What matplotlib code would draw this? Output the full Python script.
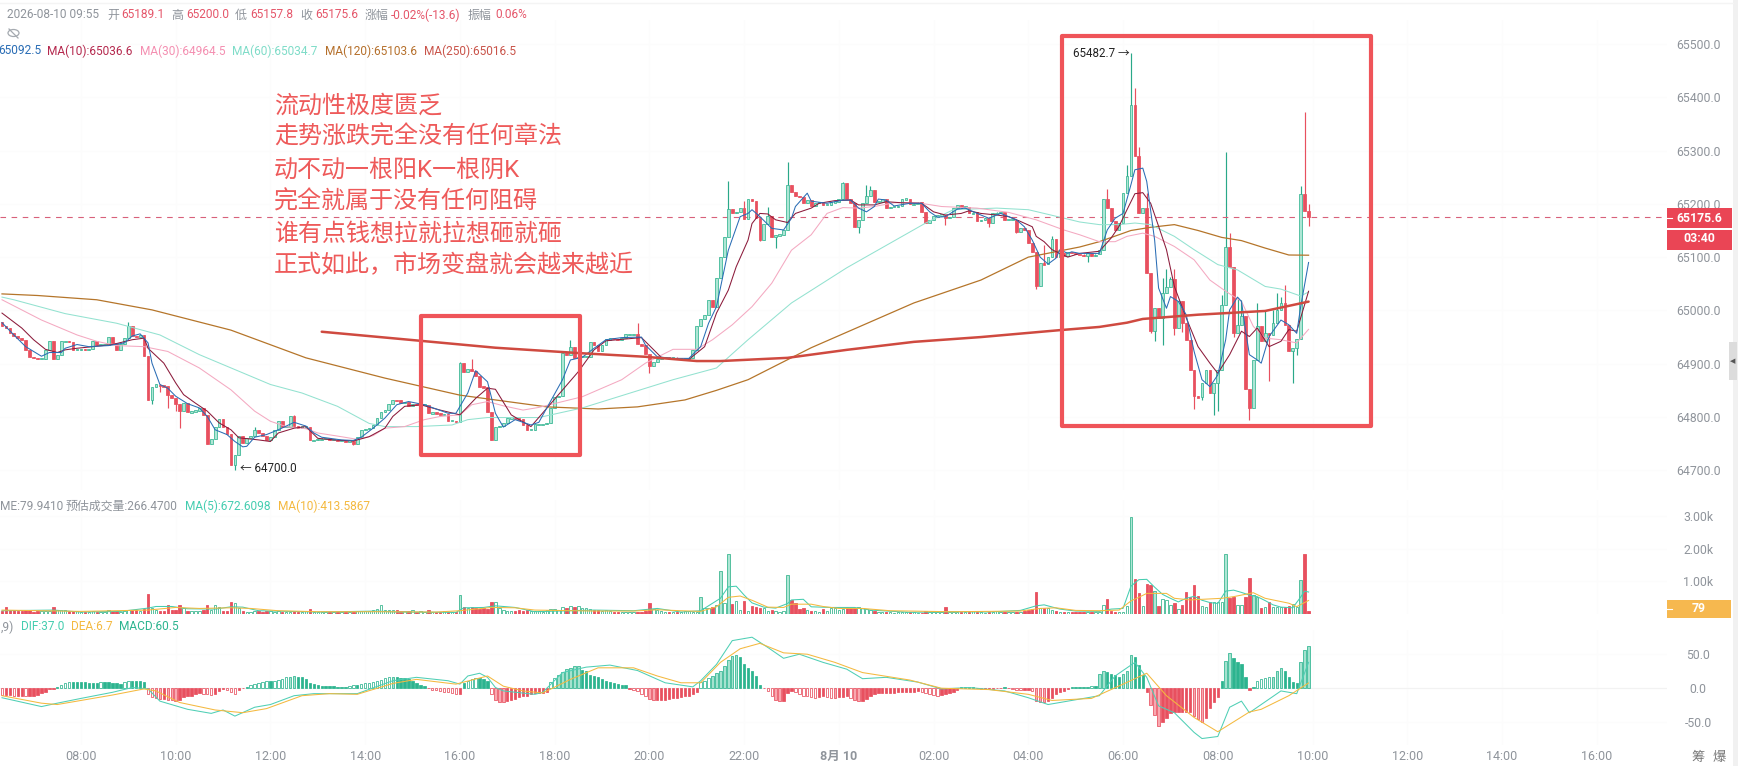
import matplotlib
matplotlib.use("Agg")
import matplotlib.pyplot as plt
from matplotlib.patches import Rectangle, Ellipse

plt.rcParams['font.family'] = ['Roboto', 'Noto Sans CJK SC', 'DejaVu Sans']

closes = [
 64970,64967,64957,64952,64948,64944,64926,64912,64911,64909,64909,64926,64942,64909,64917,64942,64942,64941,64926,64926,64927,64926,64927,64942,
 64936,64936,64936,64951,64939,64926,64937,64948,64970,64952,64951,64954,64914,64832,64856,64861,64859,64858,64842,64836,64825,64811,64826,64809,
 64811,64811,64817,64804,64750,64759,64782,64796,64782,64769,64709,64728,64764,64752,64761,64764,64776,64770,64765,64757,64763,64776,64792,64782,
 64782,64802,64783,64781,64781,64781,64756,64757,64758,64760,64760,64757,64757,64756,64756,64755,64755,64750,64762,64776,64778,64779,64785,64798,
 64810,64813,64825,64832,64831,64827,64829,64821,64825,64823,64823,64823,64807,64808,64807,64804,64805,64793,64793,64791,64901,64885,64890,64887,
 64876,64857,64856,64810,64756,64782,64783,64788,64798,64798,64797,64796,64785,64776,64776,64786,64786,64787,64789,64817,64838,64840,64920,64917,
 64932,64910,64913,64913,64913,64940,64935,64923,64935,64946,64948,64947,64945,64948,64955,64955,64955,64937,64935,64918,64895,64904,64908,64912,
 64913,64912,64912,64910,64910,64910,64910,64926,64970,64983,64992,65020,65007,65060,65100,65137,65190,65182,65185,65193,65171,65210,65205,65173,
 65132,65163,65177,65137,65141,65142,65151,65235,65223,65215,65212,65202,65208,65196,65201,65204,65198,65198,65203,65204,65209,65239,65210,65201,
 65157,65170,65201,65214,65226,65204,65204,65210,65192,65195,65195,65196,65209,65210,65199,65201,65203,65185,65164,65170,65177,65179,65179,65173,
 65176,65192,65198,65194,65194,65182,65184,65167,65170,65174,65164,65182,65184,65185,65170,65170,65170,65148,65154,65150,65127,65109,65045,65089,
 65087,65100,65134,65100,65107,65102,65110,65108,65106,65105,65103,65107,65103,65105,65113,65209,65192,65168,65151,65164,65221,65252,65386,65290,
 65182,65192,65070,64961,65004,64986,65032,65044,65059,64967,65017,64977,64945,64889,64839,64837,64864,64889,64845,64864,64889,65011,65119,65082,
 64957,64973,64990,64852,64817,64907,64970,64942,64957,64954,64976,65001,65014,64973,64923,64929,64946,65219,65186,65175.6]
first_open = 64978

high_idx = [32,64,74,116,119,144,161,184,188,194,199,213,219,220,264,266,280,285,286,287,288,290,294,295,296,297,309,310,311,312,313,314,318,320,322,323,324,325,329,330,331]
high_val = [64979,64782,64804,64904,64908,64945,64976,65243,65206,65195,65278,65241,65235,65234,65123,65140,65227,65273,65482.7,65417,65307,65220,65060,65077,65062,65077,65029,65298,65145,65082,65023,65020,65014,65001,65001,65032,65026,65048,65234,65372,65200]
low_idx = [38,40,42,44,45,59,89,164,192,196,217,239,250,257,262,275,291,292,294,297,299,302,304,307,308,312,316,318,321,327,328,331]
low_val = [64825,64846,64817,64811,64779,64700,64747,64883,65131,65118,65146,65161,65157,65146,65040,65090,64958,64942,64936,64954,64960,64815,64832,64804,64811,64950,64795,64914,64867,64864,64917,65157.8]

ma5_idx = [0,3,6,10,12,15,16,19,22,27,31,33,35,37,38,40,42,44,47,50,52,54,57,59,61,62,64,67,70,74,77,79,81,86,89,91,94,97,100,103,107,113,115,118,120,123,125,127,130,134,136,142,144,147,150,153,157,162,163,166,170,174,177,179,181,184,187,189,190,192,195,198,200,201,204,205,209,213,215,217,219,221,222,224,226,230,233,235,237,239,242,244,248,250,253,255,257,259,261,263,265,267,268,270,271,273,278,280,282,284,286,287,289,290,292,293,295,296,298,300,302,304,306,308,310,311,313,314,315,316,318,319,321,324,326,328,329,331]
ma5_val = [64977,64954,64932,64914,64921,64921,64929,64936,64932,64934,64939,64952,64956,64939,64901,64861,64854,64839,64825,64817,64801,64776,64767,64754,64744,64745,64762,64767,64776,64790,64783,64770,64762,64757,64756,64762,64779,64798,64823,64829,64823,64807,64807,64845,64887,64866,64807,64781,64795,64785,64790,64870,64907,64912,64929,64945,64949,64950,64935,64913,64910,64910,64932,64976,65007,65113,65176,65182,65189,65176,65154,65151,65173,65195,65220,65205,65201,65207,65207,65192,65185,65195,65209,65207,65196,65201,65201,65185,65175,65176,65190,65192,65179,65173,65182,65176,65170,65157,65132,65100,65087,65098,65114,65107,65110,65107,65107,65151,65173,65182,65236,65264,65267,65242,65132,65042,65004,65026,65017,64992,64923,64870,64857,64879,64945,65001,65025,65017,64964,64917,64907,64901,64951,64982,64973,64957,65007,65090]

ma10_idx = [0,5,8,11,14,16,19,23,28,33,36,37,41,44,46,49,52,55,58,60,65,68,70,74,77,80,84,89,93,97,99,102,106,111,116,120,123,125,129,134,146,150,153,162,167,170,174,178,181,184,186,189,190,192,194,196,199,201,205,207,211,215,217,221,224,228,233,236,239,243,245,248,252,255,258,261,262,264,266,268,270,273,278,281,283,285,287,289,291,293,295,297,300,303,306,308,311,314,316,318,321,324,326,328,331]
ma10_val = [64995,64967,64945,64927,64921,64926,64929,64932,64936,64945,64948,64929,64901,64864,64842,64826,64811,64789,64776,64761,64757,64754,64770,64779,64782,64760,64757,64755,64763,64779,64801,64820,64823,64813,64804,64835,64854,64852,64804,64782,64885,64926,64943,64949,64912,64908,64908,64932,64995,65038,65082,65132,65163,65182,65181,65170,65165,65182,65192,65201,65206,65207,65198,65198,65204,65202,65201,65185,65179,65182,65187,65182,65179,65176,65167,65157,65139,65129,65114,65107,65100,65107,65111,65136,65158,65189,65219,65221,65201,65158,65114,65045,64986,64932,64901,64882,64917,64961,64951,64967,64932,64942,64964,64961,65036]

ma30_idx = [0,10,19,24,29,36,42,50,58,64,68,72,77,80,86,90,94,97,102,107,111,116,119,123,127,132,136,147,157,163,170,176,180,185,190,195,200,205,209,213,217,221,226,232,238,247,255,262,269,273,278,282,285,289,292,297,302,306,310,314,317,320,324,328,331]
ma30_val = [65020,64982,64954,64942,64934,64932,64923,64892,64851,64811,64792,64782,64778,64770,64763,64758,64765,64779,64782,64795,64801,64804,64823,64829,64821,64813,64818,64838,64870,64901,64927,64927,64945,64973,65007,65051,65113,65142,65182,65193,65192,65195,65202,65202,65195,65192,65184,65170,65151,65142,65129,65129,65139,65145,65139,65120,65095,65057,65036,65017,64970,64948,64945,64939,64964.5]

ma60_idx = [0,3,16,29,40,50,59,68,76,85,93,97,105,114,118,123,136,147,170,181,189,200,214,234,241,252,260,268,273,278,283,287,291,297,302,308,313,320,324,329,331]
ma60_val = [65025,65020,64994,64976,64954,64917,64889,64861,64845,64820,64788,64782,64782,64785,64795,64799,64799,64817,64870,64892,64945,65014,65080,65164,65189,65192,65189,65175,65166,65161,65161,65164,65161,65139,65114,65086,65076,65045,65040,65027,65034.7]

ma120_idx = [0,9,24,38,58,77,97,116,138,151,161,173,181,189,205,231,248,260,273,278,286,291,297,303,309,314,320,326,331]
ma120_val = [65031,65028,65020,65001,64963,64911,64873,64841,64819,64815,64819,64832,64850,64870,64930,65014,65057,65100,65119,65129,65150,65156,65161,65150,65137,65131,65117,65104,65103.6]

ma250_idx = [81,106,125,146,163,176,182,199,214,231,248,268,278,285,289,303,320,331]
ma250_val = [64960,64943,64930,64920,64913,64905,64905,64911,64926,64941,64950,64963,64969,64977,64984,64992,64999,65016.5]

volumes = [
 90,220,120,110,100,100,110,120,70,90,80,90,100,220,130,130,120,80,100,90,70,70,60,90,
 60,70,60,120,100,90,70,80,130,110,110,100,150,600,180,110,100,80,280,130,120,280,190,80,
 90,100,90,110,280,130,270,200,100,90,360,330,180,90,70,60,100,80,70,80,80,60,90,60,
 50,70,80,70,60,90,160,70,50,50,50,50,60,50,50,50,60,60,80,90,80,100,120,150,
 270,130,120,110,130,100,80,80,110,70,80,60,130,70,60,60,80,50,70,50,580,200,190,220,
 170,150,170,160,360,360,170,110,100,90,90,110,90,110,100,90,80,60,120,150,140,110,220,180,
 230,200,250,170,170,140,110,110,100,110,90,70,60,60,60,70,70,70,60,80,330,150,130,90,
 70,70,60,70,60,80,90,70,60,530,180,190,200,280,1320,340,1830,310,400,110,400,90,250,200,
 180,170,100,110,90,60,100,1190,430,350,150,190,120,100,80,70,150,100,180,190,120,150,220,180,
 170,220,180,160,110,80,60,50,60,50,40,50,50,70,60,50,40,40,100,60,60,60,60,220,
 70,60,60,50,50,70,80,60,50,40,60,60,90,60,60,50,60,70,70,100,130,160,660,170,
 170,180,120,90,70,60,70,60,50,50,50,50,50,50,60,280,460,100,70,60,60,240,2960,1060,
 630,230,920,890,710,250,450,430,275,350,150,275,660,510,890,550,230,210,370,380,380,380,1830,480,
 530,265,265,530,1090,580,530,195,225,380,210,210,210,210,245,305,225,1040,1830,80]

volma5_idx = [0,13,20,30,37,39,43,47,54,58,61,65,80,95,100,115,117,122,125,130,135,150,160,166,172,177,182,184,186,188,190,193,196,199,200,203,205,210,216,220,230,240,250,258,262,264,268,272,278,281,284,286,288,290,292,294,296,298,300,302,304,306,308,310,312,314,316,318,320,322,324,327,329,330,331]
volma5_val = [100,120,60,80,180,230,230,160,150,220,210,100,60,90,60,50,190,200,250,200,70,120,100,170,60,100,480,830,850,580,340,210,180,320,430,450,220,200,200,120,50,70,60,110,250,280,150,90,80,150,170,850,1050,1060,820,600,480,370,480,540,420,350,320,700,730,660,580,530,410,280,210,190,520,700,672.6]
volma10_idx = [0,20,37,44,50,58,63,70,80,95,110,116,124,130,135,150,160,166,172,177,181,184,187,190,194,198,200,205,208,212,218,225,240,250,258,263,267,272,278,283,286,288,290,295,297,301,309,312,317,320,326,328,331]
volma10_val = [120,80,120,200,170,190,170,100,70,70,60,100,200,190,120,90,90,130,100,80,220,510,550,420,210,200,300,300,230,170,170,100,70,80,90,170,190,110,100,120,400,510,630,630,480,430,480,530,650,480,330,225,413.6]

macd_hist = [
 -11,-11,-11,-12,-12,-12,-13,-13,-12,-11,-8,-6,-2,-2,1,4,6,8,8,8,8,8,7,7,
 7,8,8,8,7,6,5,8,10,10,10,9,8,-9,-14,-16,-17,-17,-18,-19,-20,-18,-14,-13,
 -12,-10,-8,-9,-10,-11,-9,-5,-2,-3,-6,-9,-4,-1,1,3,5,7,8,9,9,10,11,12,
 15,16,17,16,15,12,7,5,3,2,2,2,2,1,1,1,2,3,3,5,6,7,8,10,
 11,14,15,16,16,14,14,12,10,7,4,2,-1,-3,-4,-5,-6,-7,-8,-9,-9,6,10,12,
 14,14,13,9,-10,-18,-21,-22,-20,-19,-17,-14,-13,-12,-9,-8,-8,-8,-6,8,14,19,23,27,
 28,31,32,26,24,18,17,15,12,10,8,6,5,3,3,-2,-3,-5,-10,-13,-17,-19,-19,-19,
 -18,-17,-16,-15,-14,-13,-13,-10,-7,8,10,14,17,21,25,32,40,47,48,45,35,29,24,17,
 3,-1,-5,-12,-18,-20,-20,-8,-5,-7,-9,-12,-13,-14,-15,-14,-13,-14,-15,-16,-14,-14,-13,-15,
 -19,-20,-20,-17,-12,-9,-8,-8,-8,-8,-8,-7,-7,-7,-6,-6,-5,-6,-8,-9,-11,-12,-11,-10,
 -8,-6,-3,1,1,1,1,-1,-2,-2,-2,-2,-1,-1,1,-1,-2,-3,-4,-4,-4,-5,-20,-21,
 -22,-20,-15,-10,-7,-5,-2,1,1,1,1,1,2,2,20,24,23,20,18,16,20,25,48,45,
 33,19,-7,-25,-40,-57,-50,-45,-38,-36,-36,-36,-36,-36,-42,-46,-50,-45,-30,-22,-14,9,39,51,
 43,38,35,15,-3,1,10,12,14,15,16,25,29,25,15,8,6,38,55,60.5]

dif_idx = [0,10,14,20,28,33,37,40,47,53,56,59,64,68,74,79,90,99,105,113,116,118,121,123,125,127,135,137,142,148,154,161,168,175,177,181,185,190,194,198,202,208,214,218,224,232,238,245,254,260,265,273,278,282,287,290,293,297,302,304,308,311,314,316,324,328,331]
dif_val = [-15,-28,-23,-16,-7,0,-2,-20,-32,-38,-33,-42,-29,-25,-12,-9,-9,10,15,10,5,17,21,15,0,-5,-10,-7,22,30,33,25,7,1,10,34,69,74,59,43,49,37,27,13,15,8,-2,0,-5,-15,-25,-17,-12,17,37,15,-27,-37,-66,-75,-72,-29,-20,-37,-5,-9,37]
dea_idx = [0,10,14,20,28,36,39,45,54,61,67,76,83,90,99,105,115,123,127,132,137,144,151,160,166,172,177,182,187,192,198,204,211,218,230,238,250,260,266,276,284,290,295,302,308,316,319,326,331]
dea_val = [-12,-23,-25,-19,-11,-2,-5,-22,-33,-37,-31,-12,-9,-10,6,12,5,17,2,-5,-8,12,29,29,17,7,7,37,57,65,51,49,37,22,11,-1,-3,-10,-19,-16,5,21,-12,-44,-65,-36,-32,-12,6.7]

hour_idx = [20,44,68,92,116,140,164,188,212,236,260,284,308,332,356,380,404]
hour_labels = ['08:00','10:00','12:00','14:00','16:00','18:00','20:00','22:00','8月 10','02:00','04:00','06:00','08:00','10:00','12:00','14:00','16:00']

notes = ['流动性极度匮乏', '走势涨跌完全没有任何章法', '动不动一根阳K一根阴K', '完全就属于没有任何阻碍', '谁有点钱想拉就拉想砸就砸', '正式如此，市场变盘就会越来越近']

W, H = 1738, 766
GREEN, GREEN_FILL, RED = '#35b592', '#aee6d5', '#e8505f'
GRID = '#fcfcfc'
GREY = '#8f949b'
fig = plt.figure(figsize=(W/100, H/100), dpi=100, facecolor='white')

def px_axes(x0, x1, y0, y1):
    return fig.add_axes([x0/W, 1-y1/H, (x1-x0)/W, (y1-y0)/H])

XL, XR = -0.506, 421.8
ax = px_axes(0, 1667, 20, 490)
axv = px_axes(0, 1667, 500, 614)
axm = px_axes(0, 1667, 630, 745)
ax.set_ylim(64663, 65545)
axv.set_ylim(0, 3486)
axm.set_ylim(-84.5, 84.6)

for a in (ax, axv, axm):
    a.set_xlim(XL, XR)
    a.set_xticks(hour_idx)
    a.tick_params(length=0, labelbottom=False)
    a.grid(True, color=GRID, lw=1)
    a.set_axisbelow(True)
    for s in a.spines.values():
        s.set_visible(False)
    a.yaxis.tick_right()

def set_right(a, vals, labels):
    a.set_yticks(vals)
    a.set_yticklabels(labels, fontsize=8.8, color=GREY, ha='center')
    a.tick_params(axis='y', pad=22.5, length=0)

set_right(ax, list(range(64700, 65501, 100)), [f'{v}.0' for v in range(64700, 65501, 100)])
set_right(axv, [1000, 2000, 3000], ['1.00k', '2.00k', '3.00k'])
set_right(axm, [-50, 0, 50], ['-50.0', '0.0', '50.0'])
axm.tick_params(axis='x', labelbottom=True, pad=3.5, labelsize=9, labelcolor=GREY)
axm.set_xticklabels(hour_labels)
for lab in axm.get_xticklabels():
    if lab.get_text().startswith('8月'):
        lab.set_fontweight('bold')

# candles
n = min(len(closes), len(volumes), len(macd_hist))
xs = list(range(n))
opens = [first_open] + closes[:n-1]
highs = [max(o, c) for o, c in zip(opens, closes[:n])]
lows = [min(o, c) for o, c in zip(opens, closes[:n])]
for i, v in zip(high_idx, high_val):
    highs[i] = max(highs[i], v)
for i, v in zip(low_idx, low_val):
    lows[i] = min(lows[i], v)

for i in xs:
    up = closes[i] >= opens[i]
    ax.vlines(i, lows[i], highs[i], color='#2aa889' if up else RED, lw=0.85, zorder=2)
    bot, h = min(opens[i], closes[i]), abs(closes[i]-opens[i])
    if h < 2.5:
        bot, h = bot-1, 2.5
    ax.bar(i, h, bottom=bot, width=0.7, color=GREEN_FILL if up else RED,
           edgecolor=GREEN if up else RED, lw=0.55, zorder=3)

ax.plot(ma120_idx, ma120_val, color='#b5752a', lw=0.9, zorder=4)
ax.plot(ma60_idx, ma60_val, color='#93e2d0', lw=0.75, zorder=4)
ax.plot(ma30_idx, ma30_val, color='#f4a9c1', lw=0.75, zorder=4)
ax.plot(ma10_idx, ma10_val, color='#8b1a3a', lw=0.75, zorder=5)
ax.plot(ma5_idx, ma5_val, color='#2a6db5', lw=0.75, zorder=5)
ax.plot(ma250_idx, ma250_val, color='#cf4a40', lw=1.8, zorder=6, solid_capstyle='round')

ax.axhline(65175.6, color='#d8607a', lw=0.8, dashes=(5, 5), zorder=2)
ax.annotate('← 64700.0', (59, 64700), xytext=(4, 1), textcoords='offset points',
            fontsize=8.4, color='#222222', va='center', ha='left')
ax.annotate('65482.7 →', (286, 65482.7), xytext=(-1, 0), textcoords='offset points',
            fontsize=8.4, color='#222222', va='center', ha='right')

# volume
for i in xs:
    up = closes[i] >= opens[i]
    axv.bar(i, volumes[i], width=0.62, color=(GREEN_FILL if volumes[i] > 500 else 'white') if up else RED,
            edgecolor='#3fb892' if up else RED, lw=0.6, zorder=3)
axv.plot(volma5_idx, volma5_val, color='#45cdb0', lw=0.75, zorder=4)
axv.plot(volma10_idx, volma10_val, color='#f4b93f', lw=0.75, zorder=4)

# MACD
prev = 0
for i in xs:
    v = macd_hist[i]
    growing = abs(v) > abs(prev)
    col = '#2cb48f' if v >= 0 else RED
    pale = '#a5e2cf' if v >= 0 else '#f9a8b0'
    axm.bar(i, v, width=0.62, color=(pale if abs(v) > 15 else 'white') if growing else col,
            edgecolor=col, lw=0.55, zorder=3)
    prev = v
axm.plot(dif_idx, dif_val, color='#4fcfb5', lw=0.75, zorder=4)
axm.plot(dea_idx, dea_val, color='#f4b93f', lw=0.75, zorder=4)
axm.axhline(0, color='#f2f2f2', lw=0.8, zorder=1)

# overlay in pixels
ov = fig.add_axes([0, 0, 1, 1], facecolor='none', zorder=10)
ov.set_xlim(0, W)
ov.set_ylim(H, 0)
ov.axis('off')

def T(x, y, s, color=GREY, size=8.6, ha='left', **kw):
    ov.text(x, y, s, color=color, fontsize=size, ha=ha, va='center', **kw)

ov.plot([0, 1733], [3, 3], color='#f4f4f4', lw=1)
TXT_RED = '#e5566a'
T(7, 15, '2026-08-10 09:55')
for x, s in [(107, '开'), (171, '高'), (235, '低'), (300, '收'), (365, '涨幅'), (468, '振幅')]:
    T(x, 15, s)
for x, s in [(121, '65189.1'), (186, '65200.0'), (250, '65157.8'), (315, '65175.6'), (391, '-0.02%(-13.6)'), (495, '0.06%')]:
    T(x, 15, s, TXT_RED)
ov.add_patch(Ellipse((13.5, 33), 11, 7, fill=False, ec='#a5aab0', lw=0.9))
ov.plot([9, 18], [29, 38], color='#a5aab0', lw=0.9)

for x, s, c in [(-2, '65092.5', '#2a6db5'), (47, 'MA(10):65036.6', '#b5294e'), (140, 'MA(30):64964.5', '#f48fb1'),
                (232, 'MA(60):65034.7', '#7fdcc8'), (325, 'MA(120):65103.6', '#b5702c'), (424, 'MA(250):65016.5', '#c9544a')]:
    T(x, 51, s, c)
for x, s, c in [(0, 'ME:79.9410', GREY), (66, '预估成交量:266.4700', GREY), (185, 'MA(5):672.6098', '#45cdb0'), (278, 'MA(10):413.5867', '#f4b93f')]:
    T(x, 506, s, c)
for x, s, c in [(1, ',9)', GREY), (21, 'DIF:37.0', '#45cdb0'), (71, 'DEA:6.7', '#f4b93f'), (119, 'MACD:60.5', '#2cb48f')]:
    T(x, 627, s, c)

# hand drawn boxes and note
BOX = '#ef5459'
ov.add_patch(Rectangle((421, 316), 159, 139, fill=False, ec=BOX, lw=3, joinstyle='round'))
ov.add_patch(Rectangle((1062, 36), 309, 390, fill=False, ec=BOX, lw=3, joinstyle='round'))
for y, s in zip([106, 137, 170, 202, 234, 266], notes):
    T(274, y, s, '#ee5a5a', size=17.3)

# tags
ov.add_patch(Rectangle((1667, 208), 65, 20, fc='#ea4555', ec='none'))
ov.add_patch(Rectangle((1667, 229.5), 65, 20, fc='#ea4555', ec='none'))
ov.add_patch(Rectangle((1667, 600), 64, 18, fc='#f6b84f', ec='none'))
ov.plot([1667, 1672], [218, 218], color='white', lw=0.8)
ov.plot([1667, 1672], [609, 609], color='white', lw=0.8)
T(1699, 218, '65175.6', 'white', 8.8, ha='center', fontweight='bold')
T(1699, 239, '03:40', 'white', 8.8, ha='center', fontweight='bold')
T(1699, 609, '79', 'white', 8.8, ha='center', fontweight='bold')

# right edge
ov.add_patch(Rectangle((1733, 0), 5, H, fc='#f1f1f1', ec='none'))
ov.add_patch(Rectangle((1729, 342), 8, 38, fc='#dcdcdc', ec='none'))
T(1733, 361, '◀', '#555555', 5, ha='center', family='DejaVu Sans')
T(1698, 757, '筹', '#777777', 9.5, ha='center')
T(1719, 757, '爆', '#777777', 9.5, ha='center')

fig.savefig('out.png', dpi=100, facecolor='white')
